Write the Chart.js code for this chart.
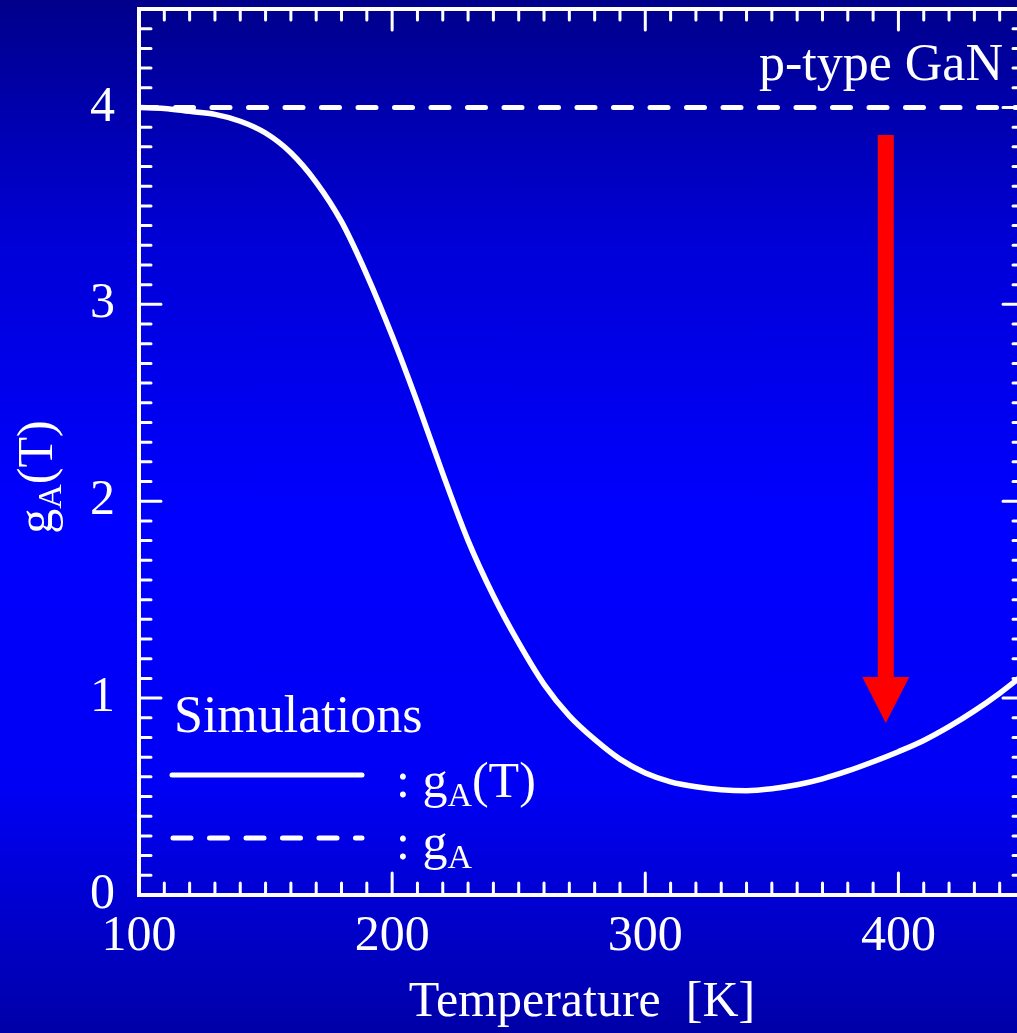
<!DOCTYPE html>
<html>
<head>
<meta charset="utf-8">
<script src="https://cdn.jsdelivr.net/npm/chart.js@4"></script>
<style>
  html, body { margin: 0; padding: 0; }
  body {
    width: 1017px; height: 1033px; overflow: hidden;
    background: linear-gradient(to bottom, #00008a 0%, #0000d8 24%, #0000ff 50%, #0000f5 76%, #0000a8 100%);
  }
  #wrap { width: 1017px; height: 1033px; overflow: hidden; }
</style>
</head>
<body>
<div id="wrap"><canvas id="mychart" width="1036" height="1033" style="width:1036px;height:1033px"></canvas></div>
<script>
const SERIF = "'Liberation Serif', 'DejaVu Serif', serif";

// temperature [K] and simulated g_A(T)
const temps = [100, 110, 120, 130, 140, 150, 160, 170, 180, 190, 200, 210, 220, 230, 240, 250, 260, 270,
               280, 290, 300, 310, 320, 330, 340, 350, 360, 370, 380, 390, 400, 410, 420, 430, 440, 450];
const gaT = [4.00, 3.995, 3.98, 3.965, 3.93, 3.87, 3.77, 3.62, 3.42, 3.15, 2.84, 2.50, 2.14, 1.80, 1.52, 1.28, 1.07, 0.91,
             0.79, 0.69, 0.62, 0.575, 0.55, 0.535, 0.53, 0.54, 0.56, 0.59, 0.63, 0.677, 0.728, 0.785, 0.855, 0.935, 1.025, 1.125];
// constant g_A
const gaConst = 4;
const xRange = [100, 450];
const yRange = [0, 4.5];

// red arrow (data coords)
const ARROW_X = 395;
const ARROW_TOP = 3.86;
const ARROW_HEAD = 1.107;
const ARROW_TIP = 0.874;

const ctx = document.getElementById('mychart');

const framePlugin = {
    id: 'frame',
    afterDatasetsDraw(chart) {
        const c = chart.ctx;
        const a = chart.chartArea;
        const xs = chart.scales.x, ys = chart.scales.y;
        c.save();
        c.strokeStyle = '#fff';

        // ticks, inward on all four sides
        c.lineWidth = 3;
        c.lineCap = 'round';
        c.beginPath();
        for (let i = 0; ; i++) {
            const v = xs.min + i * 10;
            if (v > xs.max + 1e-6) break;
            const len = (Math.round(v) % 100 === 0) ? 22 : 12;
            const px = xs.getPixelForValue(v);
            c.moveTo(px, a.bottom); c.lineTo(px, a.bottom - len);
            c.moveTo(px, a.top); c.lineTo(px, a.top + len - 1);
        }
        for (let i = 0; ; i++) {
            const v = ys.min + i * 0.1;
            if (v > ys.max + 1e-6) break;
            const len = (i % 10 === 0) ? 22 : 12;
            const py = ys.getPixelForValue(v);
            c.moveTo(a.left, py); c.lineTo(a.left + len, py);
            c.moveTo(a.right, py); c.lineTo(a.right - len, py);
        }
        c.stroke();

        // frame
        c.lineWidth = 4;
        c.lineCap = 'butt';
        c.strokeRect(a.left, a.top, a.right - a.left, a.bottom - a.top);

        // red arrow
        const ax = xs.getPixelForValue(ARROW_X);
        const top = ys.getPixelForValue(ARROW_TOP);
        const head = ys.getPixelForValue(ARROW_HEAD);
        const tip = ys.getPixelForValue(ARROW_TIP);
        c.fillStyle = '#ff0000';
        c.fillRect(ax - 8, top, 16, head - top + 1);
        c.beginPath();
        c.moveTo(ax - 23.5, head);
        c.lineTo(ax + 23.5, head);
        c.lineTo(ax, tip);
        c.closePath();
        c.fill();

        // texts
        c.fillStyle = '#fff';
        c.textBaseline = 'alphabetic';
        c.font = '52px ' + SERIF;
        c.textAlign = 'right';
        c.fillText('p-type GaN', 1003, 80);
        c.textAlign = 'left';
        c.fillText('Simulations', 174, 732);

        // legend
        c.lineWidth = 5;
        c.lineCap = 'round';
        c.beginPath();
        c.moveTo(172, 775); c.lineTo(362, 775);
        c.stroke();
        c.setLineDash([18, 18.5]);
        c.beginPath();
        c.moveTo(173, 838); c.lineTo(362, 838);
        c.stroke();
        c.setLineDash([]);

        drawSub(c, 396, 797, [[': g', false], ['A', true], ['(T)', false]]);
        drawSub(c, 396, 859, [[': g', false], ['A', true]]);

        // y axis title, rotated
        c.save();
        c.translate(52, 477);
        c.rotate(-Math.PI / 2);
        const parts = [['g', false], ['A', true], ['(T)', false]];
        const w = measureSub(c, parts);
        drawSub(c, -w / 2, 0, parts);
        c.restore();

        c.restore();
    }
};

function measureSub(c, parts) {
    let w = 0;
    for (const [t, sub] of parts) {
        c.font = (sub ? '34px ' : '50px ') + SERIF;
        w += c.measureText(t).width;
    }
    return w;
}

function drawSub(c, x, y, parts) {
    c.textAlign = 'left';
    c.textBaseline = 'alphabetic';
    for (const [t, sub] of parts) {
        c.font = (sub ? '34px ' : '50px ') + SERIF;
        c.fillText(t, x, sub ? y + 9 : y);
        x += c.measureText(t).width;
    }
}

function noEdgePadding(scale) {
    scale.paddingTop = 0;
    scale.paddingBottom = 0;
    scale.paddingLeft = 0;
    scale.paddingRight = 0;
}

new Chart(ctx, {
    type: 'line',
    data: {
        datasets: [{
            label: 'gA(T)',
            data: temps.map((t, i) => ({ x: t, y: gaT[i] })),
            borderColor: '#fff',
            borderWidth: 5.5,
            pointRadius: 0,
            cubicInterpolationMode: 'monotone',
            fill: false
        }, {
            label: 'gA',
            data: [{ x: xRange[0], y: gaConst }, { x: xRange[1], y: gaConst }],
            borderColor: '#fff',
            borderWidth: 5,
            borderDash: [18, 18.5],
            borderCapStyle: 'round',
            pointRadius: 0,
            fill: false
        }]
    },
    options: {
        responsive: false,
        devicePixelRatio: 1,
        animation: false,
        layout: { padding: { top: 9, right: 11, left: 0, bottom: 0 } },
        plugins: {
            legend: { display: false },
            tooltip: { enabled: false },
            title: { display: false }
        },
        scales: {
            x: {
                type: 'linear',
                min: xRange[0],
                max: xRange[1],
                afterFit(scale) { scale.height = 138; noEdgePadding(scale); },
                grid: { display: false, drawTicks: false },
                border: { display: false },
                ticks: {
                    stepSize: 100,
                    includeBounds: false,
                    color: '#fff',
                    padding: 12,
                    font: { family: SERIF, size: 50 }
                },
                title: {
                    display: true,
                    text: 'Temperature  [K]',
                    color: '#fff',
                    padding: 0,
                    font: { family: SERIF, size: 50 }
                }
            },
            y: {
                type: 'linear',
                min: yRange[0],
                max: yRange[1],
                afterFit(scale) { scale.width = 139; noEdgePadding(scale); },
                grid: { display: false, drawTicks: false },
                border: { display: false },
                ticks: {
                    stepSize: 1,
                    includeBounds: false,
                    color: '#fff',
                    padding: 24,
                    font: { family: SERIF, size: 50 }
                }
            }
        }
    },
    plugins: [framePlugin]
});
</script>
</body>
</html>
